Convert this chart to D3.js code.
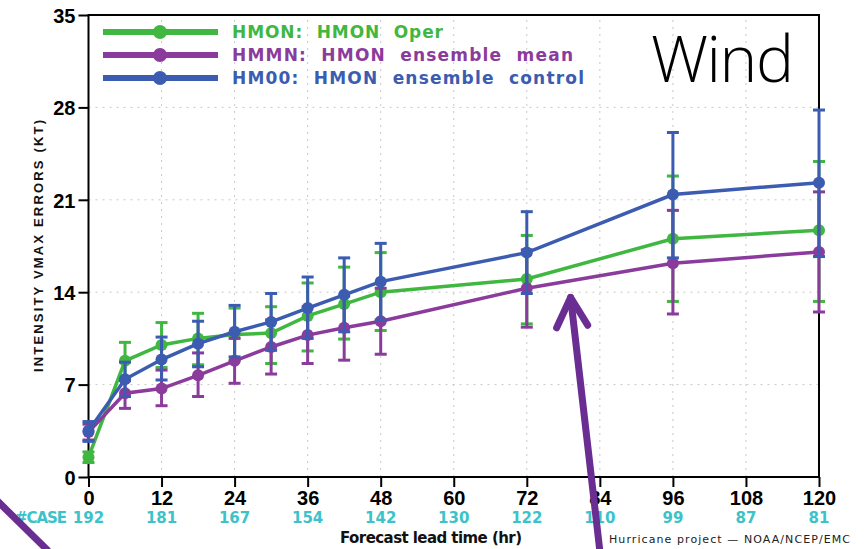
<!DOCTYPE html>
<html><head><meta charset="utf-8">
<script src="https://cdn.jsdelivr.net/npm/d3@7"></script>
<style>body{margin:0;background:#fff}</style>
</head><body>
<script>
// ---- data ----
const hours = [0, 6, 12, 18, 24, 30, 36, 42, 48, 72, 96, 120];
const xTicks = [0, 12, 24, 36, 48, 60, 72, 84, 96, 108, 120];
const yTicks = [0, 7, 14, 21, 28, 35];
const caseCounts = [192, 181, 167, 154, 142, 130, 122, 110, 99, 87, 81];

const hmonMean = [1.5, 8.8, 10.0, 10.5, 10.8, 10.9, 12.2, 13.1, 14.0, 15.0, 18.05, 18.7];
const hmonHi   = [1.9, 10.2, 11.7, 12.4, 12.8, 12.9, 14.7, 15.9, 17.0, 18.3, 22.8, 23.9];
const hmonLo   = [1.1, 7.4, 8.3, 8.5, 8.8, 8.6, 9.55, 10.45, 11.1, 11.6, 13.3, 13.3];

const hmmnMean = [3.4, 6.35, 6.7, 7.7, 8.8, 9.85, 10.75, 11.3, 11.8, 14.3, 16.2, 17.05];
const hmmnHi   = [4.0, 7.3, 8.1, 9.4, 10.5, 11.9, 12.9, 13.7, 14.3, 17.2, 20.2, 21.6];
const hmmnLo   = [2.8, 5.2, 5.4, 6.1, 7.1, 7.8, 8.6, 8.85, 9.3, 11.35, 12.35, 12.5];

const hm00Mean = [3.5, 7.4, 8.9, 10.1, 11.0, 11.75, 12.8, 13.8, 14.8, 17.0, 21.4, 22.3];
const hm00Hi   = [4.2, 8.7, 10.6, 11.8, 13.0, 13.9, 15.15, 16.6, 17.7, 20.1, 26.1, 27.8];
const hm00Lo   = [2.7, 6.1, 7.35, 8.35, 9.1, 9.6, 10.5, 11.0, 11.9, 13.9, 16.6, 16.7];

const seriesNames = ["HMON:  HMON  Oper", "HMMN:  HMON  ensemble  mean", "HM00:  HMON  ensemble  control"];
const seriesColors = ["#3fb740", "#8a3b9c", "#3b5cb0"];

// annotation arrows (in data units: hours, knots)
const arrowMain = [[84.0, -5.6], [79.2, 13.6]];
const arrowHead = [[76.9, 11.3], [79.2, 13.6], [82.0, 11.5]];
const arrowLeft = [[-15.0, -1.8], [-6.6, -5.6]];

// ---- layout ----
const W = 864, H = 549;
const m = {left: 88.5, right: 819, top: 15, bottom: 477};

const svg = d3.select("body").append("svg").attr("width", W).attr("height", H)
  .style("font-family", "'Liberation Sans', Arial, sans-serif");

const x = d3.scaleLinear().domain([0, 120]).range([m.left, m.right]);
const y = d3.scaleLinear().domain([0, 35]).range([m.bottom, m.top]);

// grid
const grid = svg.append("g");
grid.selectAll(".gx").data(xTicks.filter(d => d > 0 && d < 120)).enter().append("line")
  .attr("x1", d => x(d)).attr("x2", d => x(d)).attr("y1", y(0)).attr("y2", y(35))
  .attr("stroke", "#c8c8c8").attr("stroke-width", 1).attr("stroke-dasharray", "2,5");
grid.selectAll(".gy").data(yTicks.filter(d => d > 0 && d < 35)).enter().append("line")
  .attr("y1", d => y(d)).attr("y2", d => y(d)).attr("x1", x(0)).attr("x2", x(120))
  .attr("stroke", "#c8c8c8").attr("stroke-width", 1).attr("stroke-dasharray", "2,5");

// axes
const yAxis = d3.axisLeft(y).tickValues(yTicks).tickSize(10).tickPadding(3);
const gy = svg.append("g").attr("transform", `translate(${m.left},0)`).call(yAxis);
gy.select(".domain").remove();
gy.selectAll(".tick line").attr("stroke", "#000").attr("stroke-width", 2);
gy.selectAll(".tick text").attr("font-size", 20).attr("font-weight", "bold").attr("fill", "#000")
  .attr("font-family", "'Liberation Sans', Arial, sans-serif").attr("dy", "0.36em");

const xAxis = d3.axisBottom(x).tickValues(xTicks).tickSize(10).tickPadding(3);
const gx = svg.append("g").attr("transform", `translate(0,${m.bottom})`).call(xAxis);
gx.select(".domain").remove();
gx.selectAll(".tick line").attr("stroke", "#000").attr("stroke-width", 2);
gx.selectAll(".tick text").attr("font-size", 20).attr("font-weight", "bold").attr("fill", "#000")
  .attr("font-family", "'Liberation Sans', Arial, sans-serif").attr("y", 28).attr("dy", 0);

// frame
svg.append("rect").attr("x", m.left).attr("y", m.top)
  .attr("width", m.right - m.left).attr("height", m.bottom - m.top)
  .attr("fill", "none").attr("stroke", "#000").attr("stroke-width", 2);

// case counts
svg.selectAll(".case").data(caseCounts).enter().append("text")
  .attr("x", (d, i) => x(xTicks[i])).attr("y", 523).attr("text-anchor", "middle")
  .attr("font-family", "'DejaVu Sans', sans-serif").attr("font-weight", "bold")
  .attr("font-size", 15).attr("fill", "#3cc3c9").text(d => d);
svg.append("text").attr("x", 15).attr("y", 523)
  .attr("font-family", "'DejaVu Sans', sans-serif").attr("font-weight", "bold")
  .attr("font-size", 15).attr("fill", "#3cc3c9").attr("textLength", 52).text("#CASE");

// axis titles
svg.append("text").attr("x", 431).attr("y", 543).attr("text-anchor", "middle")
  .attr("font-family", "'DejaVu Sans', sans-serif").attr("font-weight", "bold")
  .attr("font-size", 15).attr("fill", "#111").attr("textLength", 182).text("Forecast lead time (hr)");
svg.append("text").attr("x", 609).attr("y", 543)
  .attr("font-family", "'DejaVu Sans', sans-serif").attr("font-size", 11).attr("fill", "#222")
  .attr("textLength", 241).text("Hurricane project \u2014 NOAA/NCEP/EMC");
svg.append("text").attr("transform", "translate(43,246) rotate(-90)").attr("text-anchor", "middle")
  .attr("font-family", "'Liberation Sans', Arial, sans-serif").attr("font-weight", "bold")
  .attr("font-size", 13).attr("fill", "#111").attr("textLength", 252).text("INTENSITY VMAX ERRORS (KT)");

// series
const series = [
  {name: seriesNames[0], color: seriesColors[0], mean: hmonMean, hi: hmonHi, lo: hmonLo},
  {name: seriesNames[1], color: seriesColors[1], mean: hmmnMean, hi: hmmnHi, lo: hmmnLo},
  {name: seriesNames[2], color: seriesColors[2], mean: hm00Mean, hi: hm00Hi, lo: hm00Lo}
];
const line = d3.line().x(d => x(d[0])).y(d => y(d[1]));

series.forEach(s => {
  const g = svg.append("g");
  const pts = hours.map((h, i) => ({h, m: s.mean[i], hi: s.hi[i], lo: s.lo[i]}));
  g.selectAll(".eb").data(pts).enter().append("line")
    .attr("x1", d => x(d.h)).attr("x2", d => x(d.h)).attr("y1", d => y(d.lo)).attr("y2", d => y(d.hi))
    .attr("stroke", s.color).attr("stroke-width", 3);
  ["hi", "lo"].forEach(k => {
    g.selectAll(".cap" + k).data(pts).enter().append("line")
      .attr("x1", d => x(d.h) - 6).attr("x2", d => x(d.h) + 6)
      .attr("y1", d => y(d[k])).attr("y2", d => y(d[k]))
      .attr("stroke", s.color).attr("stroke-width", 3);
  });
  g.append("path").datum(pts.map(d => [d.h, d.m])).attr("d", line)
    .attr("fill", "none").attr("stroke", s.color).attr("stroke-width", 3.5);
  g.selectAll("circle").data(pts).enter().append("circle")
    .attr("cx", d => x(d.h)).attr("cy", d => y(d.m)).attr("r", 6).attr("fill", s.color);
});

// legend
const lg = svg.append("g");
series.forEach((s, i) => {
  const ly = 32 + i * 23;
  lg.append("line").attr("x1", 103).attr("x2", 218).attr("y1", ly).attr("y2", ly)
    .attr("stroke", s.color).attr("stroke-width", 6);
  lg.append("circle").attr("cx", 160).attr("cy", ly).attr("r", 7).attr("fill", s.color);
  const ends = [443, 573, 584];
  lg.append("text").attr("x", 232).attr("y", ly + 6)
    .attr("font-family", "'DejaVu Sans', sans-serif").attr("font-weight", "bold")
    .attr("font-size", 17).attr("fill", s.color)
    .attr("textLength", ends[i] - 232).attr("lengthAdjust", "spacing")
    .style("white-space", "pre").text(s.name);
});

// Wind label
svg.append("text").attr("x", 651).attr("y", 82)
  .attr("font-family", "'Open Sans', sans-serif").attr("font-weight", 300)
  .attr("font-size", 64).attr("fill", "#000")
  .attr("textLength", 143).text("Wind");

// annotation arrows
const aline = d3.line().x(d => x(d[0])).y(d => y(d[1]));
const arrowColor = "#6a2d91";
svg.append("path").attr("d", aline(arrowMain)).attr("stroke", arrowColor).attr("stroke-width", 7)
  .attr("fill", "none").attr("stroke-linecap", "round");
svg.append("path").attr("d", aline(arrowHead)).attr("stroke", arrowColor).attr("stroke-width", 7)
  .attr("fill", "none").attr("stroke-linecap", "round").attr("stroke-linejoin", "round");
svg.append("path").attr("d", aline(arrowLeft)).attr("stroke", arrowColor).attr("stroke-width", 7)
  .attr("fill", "none");
</script>
</body></html>
